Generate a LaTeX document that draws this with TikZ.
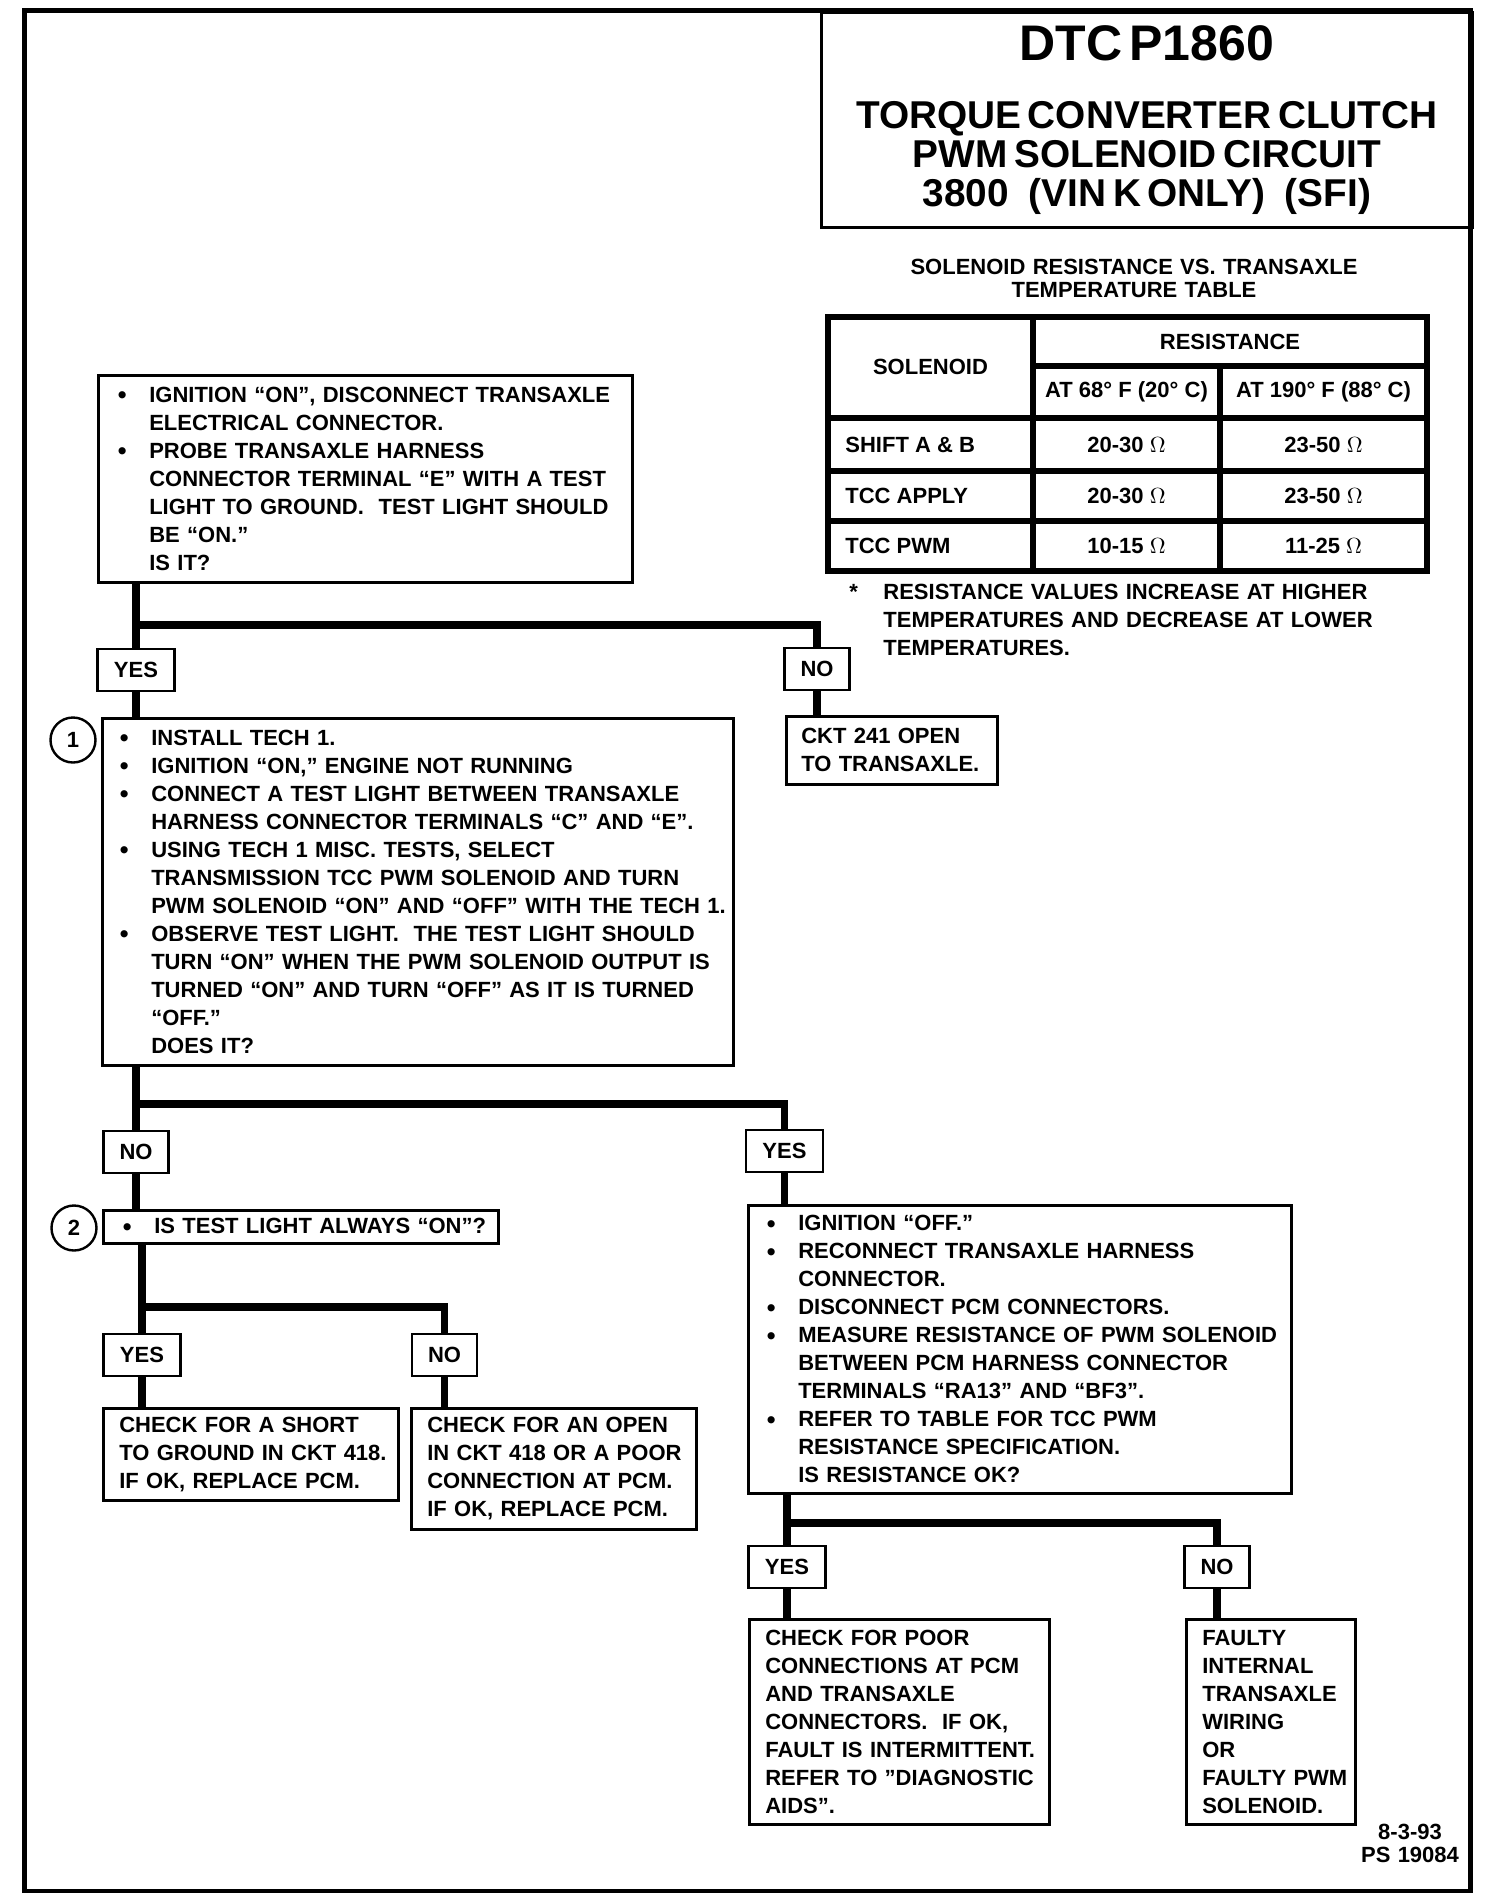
\documentclass[tikz,border=0pt]{standalone}
\usepackage{fontspec}
\setmainfont{Liberation Sans}
\newcommand{\stepfont}{\fontsize{11}{14}\selectfont\bfseries}
\newcommand{\capfont}{\fontsize{11}{11.5}\selectfont\bfseries}
\newcommand{\pad}[1]{\parindent=0pt\parskip=0pt\leftskip=#1pt\relax}
\newcommand{\bl}{\leavevmode\llap{\raisebox{-0.6pt}{\fontsize{12.5}{12.5}\selectfont\textbullet}\hspace{11.3pt}}}

\begin{document}
\begin{tikzpicture}[
    x=0.5pt, y=-0.5pt,
    stepbox/.style={
        draw,
        line width=1.3pt,
        anchor=north west,
        align=left,
        inner sep=0pt,
        font=\stepfont
    },
    answer/.style={
        draw,
        line width=1.3pt,
        minimum height=21pt,
        inner sep=0pt,
        font=\stepfont
    },
    yesbox/.style={answer, minimum width=38.5pt},
    nobox/.style={answer, minimum width=32.5pt},
    stepnum/.style={
        circle,
        draw,
        line width=1.2pt,
        minimum size=22.5pt,
        inner sep=0pt,
        font=\stepfont
    },
    cell/.style={font=\stepfont, inner sep=0pt},
    grid/.style={line width=2.6pt},
    flow/.style={line width=3.9pt}
]
\useasboundingbox (0,0) rectangle (1488,1902);

% Page frame
\draw[line width=2.4pt] (24.5,10.5) rectangle (1470.5,1891);

% Title block
\node[draw, line width=1.6pt, anchor=north west, inner sep=0pt,
      minimum width=325.25pt, minimum height=107.75pt,
      text width=325pt, align=center] (title) at (820,10.5) {
    {\fontsize{25}{25}\selectfont\bfseries DTC\ P1860\par}
    \vspace{14.6pt}
    {\fontsize{19.4}{19.4}\selectfont\bfseries
    TORQUE CONVERTER CLUTCH\\
    PWM SOLENOID CIRCUIT\\
    3800\ \ \ (VIN K ONLY)\ \ \ (SFI)\par}
};

% Resistance table
\node[cell, align=center, text width=280pt, font=\capfont] (caption) at (1134,278.5) {
    SOLENOID RESISTANCE VS. TRANSAXLE\\
    TEMPERATURE TABLE
};
\draw[grid] (828,317) rectangle (1427,571);
\draw[grid] (1033,317) -- (1033,571);
\draw[grid] (1220,366) -- (1220,571);
\draw[grid] (1033,366) -- (1427,366);
\foreach \y in {418,471,521}
    \draw[grid] (828,\y) -- (1427,\y);

\node[cell] (solhead) at (930.5,367) {SOLENOID};
\node[cell] (reshead) at (1230,342) {RESISTANCE};
\node[cell] (cold) at (1126.5,392) {AT 68° F (20° C)};
\node[cell] (hot) at (1323.5,392) {AT 190° F (88° C)};

\node[cell, anchor=west] (shift) at (845,444.5) {SHIFT A \& B};
\node[cell] (shiftcold) at (1126.5,444.5) {20-30 $\Omega$};
\node[cell] (shifthot) at (1323.5,444.5) {23-50 $\Omega$};

\node[cell, anchor=west] (apply) at (845,496) {TCC APPLY};
\node[cell] (applycold) at (1126.5,496) {20-30 $\Omega$};
\node[cell] (applyhot) at (1323.5,496) {23-50 $\Omega$};

\node[cell, anchor=west] (pwm) at (845,546) {TCC PWM};
\node[cell] (pwmcold) at (1126.5,546) {10-15 $\Omega$};
\node[cell] (pwmhot) at (1323.5,546) {11-25 $\Omega$};

\node[cell, anchor=north west] (star) at (849,584) {*};
\node[cell, anchor=north west, align=left, text width=290pt] (note) at (883,584) {
    \pad{0}RESISTANCE VALUES INCREASE AT HIGHER\\
    TEMPERATURES AND DECREASE AT LOWER\\
    TEMPERATURES.\par
};

% First check
\node[stepbox, text width=267pt, minimum height=103.5pt] (check1) at (97,374) {
    \pad{25.5}\bl IGNITION “ON”, DISCONNECT TRANSAXLE\\
    ELECTRICAL CONNECTOR.\\
    \bl PROBE TRANSAXLE HARNESS\\
    CONNECTOR TERMINAL “E” WITH A TEST\\
    LIGHT TO GROUND.\ \ TEST LIGHT SHOULD\\
    BE “ON.”\\
    IS IT?\par
};
\node[yesbox] (ans1y) at (136,670) {YES};
\node[nobox] (ans1n) at (817,669) {NO};
\node[stepbox, text width=105.5pt, minimum height=34pt] (open241) at (785,715) {
    \pad{7.5}CKT 241 OPEN\\
    TO TRANSAXLE.\par
};

% Step 1
\node[stepnum] (num1) at (73,740) {1};
\node[stepbox, text width=315.5pt, minimum height=173.5pt] (check2) at (101,717) {
    \pad{24.5}\bl INSTALL TECH 1.\\
    \bl IGNITION “ON,” ENGINE NOT RUNNING\\
    \bl CONNECT A TEST LIGHT BETWEEN TRANSAXLE\\
    HARNESS CONNECTOR TERMINALS “C” AND “E”.\\
    \bl USING TECH 1 MISC. TESTS, SELECT\\
    TRANSMISSION TCC PWM SOLENOID AND TURN\\
    PWM SOLENOID “ON” AND “OFF” WITH THE TECH 1.\\
    \bl OBSERVE TEST LIGHT.\ \ THE TEST LIGHT SHOULD\\
    TURN “ON” WHEN THE PWM SOLENOID OUTPUT IS\\
    TURNED “ON” AND TURN “OFF” AS IT IS TURNED\\
    “OFF.”\\
    DOES IT?\par
};
\node[nobox] (ans2n) at (136,1152) {NO};
\node[yesbox] (ans2y) at (784.5,1151) {YES};

% Step 2
\node[stepnum] (num2) at (74,1228) {2};
\node[stepbox, text width=197.5pt, minimum height=16.5pt] (check3) at (102,1209) {
    \pad{25.5}\bl IS TEST LIGHT ALWAYS “ON”?\par
};
\node[yesbox] (ans3y) at (142,1355) {YES};
\node[nobox] (ans3n) at (444.5,1355) {NO};
\node[stepbox, text width=147.5pt, minimum height=46pt] (short418) at (102,1407) {
    \pad{8}CHECK FOR A SHORT\\
    TO GROUND IN CKT 418.\\
    IF OK, REPLACE PCM.\par
};
\node[stepbox, text width=142.5pt, minimum height=60.5pt] (open418) at (410,1407) {
    \pad{8}CHECK FOR AN OPEN\\
    IN CKT 418 OR A POOR\\
    CONNECTION AT PCM.\\
    IF OK, REPLACE PCM.\par
};

% Resistance check
\node[stepbox, text width=271.5pt, minimum height=144pt] (check4) at (747,1204) {
    \pad{25}\bl IGNITION “OFF.”\\
    \bl RECONNECT TRANSAXLE HARNESS\\
    CONNECTOR.\\
    \bl DISCONNECT PCM CONNECTORS.\\
    \bl MEASURE RESISTANCE OF PWM SOLENOID\\
    BETWEEN PCM HARNESS CONNECTOR\\
    TERMINALS “RA13” AND “BF3”.\\
    \bl REFER TO TABLE FOR TCC PWM\\
    RESISTANCE SPECIFICATION.\\
    IS RESISTANCE OK?\par
};
\node[yesbox] (ans4y) at (787,1567) {YES};
\node[nobox] (ans4n) at (1217,1567) {NO};
\node[stepbox, text width=150pt, minimum height=102.5pt] (poorconn) at (748,1618) {
    \pad{8}CHECK FOR POOR\\
    CONNECTIONS AT PCM\\
    AND TRANSAXLE\\
    CONNECTORS.\ \ IF OK,\\
    FAULT IS INTERMITTENT.\\
    REFER TO "DIAGNOSTIC\\
    AIDS”.\par
};
\node[stepbox, text width=84.5pt, minimum height=102.5pt] (faulty) at (1185,1618) {
    \pad{8}FAULTY\\
    INTERNAL\\
    TRANSAXLE\\
    WIRING\\
    OR\\
    FAULTY PWM\\
    SOLENOID.\par
};

% Date stamp
\node[cell, align=center, text width=60pt, font=\capfont] (stamp) at (1410,1843) {
    8-3-93\\
    PS 19084
};

% Branch points
\coordinate (fork1) at (136,625);
\coordinate (fork2) at (136,1104);
\coordinate (fork3) at (142,1307);
\coordinate (fork4) at (787,1523);

% Connectors
\draw[flow] (check1.south -| ans1y) -- (ans1y.north);
\draw[flow] (fork1) -| (ans1n.north);
\draw[flow] (ans1y.south) -- (ans1y.south |- check2.north);
\draw[flow] (ans1n.south) -- (ans1n.south |- open241.north);

\draw[flow] (check2.south -| ans2n) -- (ans2n.north);
\draw[flow] (fork2) -| (ans2y.north);
\draw[flow] (ans2n.south) -- (ans2n.south |- check3.north);
\draw[flow] (ans2y.south) -- (ans2y.south |- check4.north);

\draw[flow] (check3.south -| ans3y) -- (ans3y.north);
\draw[flow] (fork3) -| (ans3n.north);
\draw[flow] (ans3y.south) -- (ans3y.south |- short418.north);
\draw[flow] (ans3n.south) -- (ans3n.south |- open418.north);

\draw[flow] (check4.south -| ans4y) -- (ans4y.north);
\draw[flow] (fork4) -| (ans4n.north);
\draw[flow] (ans4y.south) -- (ans4y.south |- poorconn.north);
\draw[flow] (ans4n.south) -- (ans4n.south |- faulty.north);

\end{tikzpicture}
\end{document}
